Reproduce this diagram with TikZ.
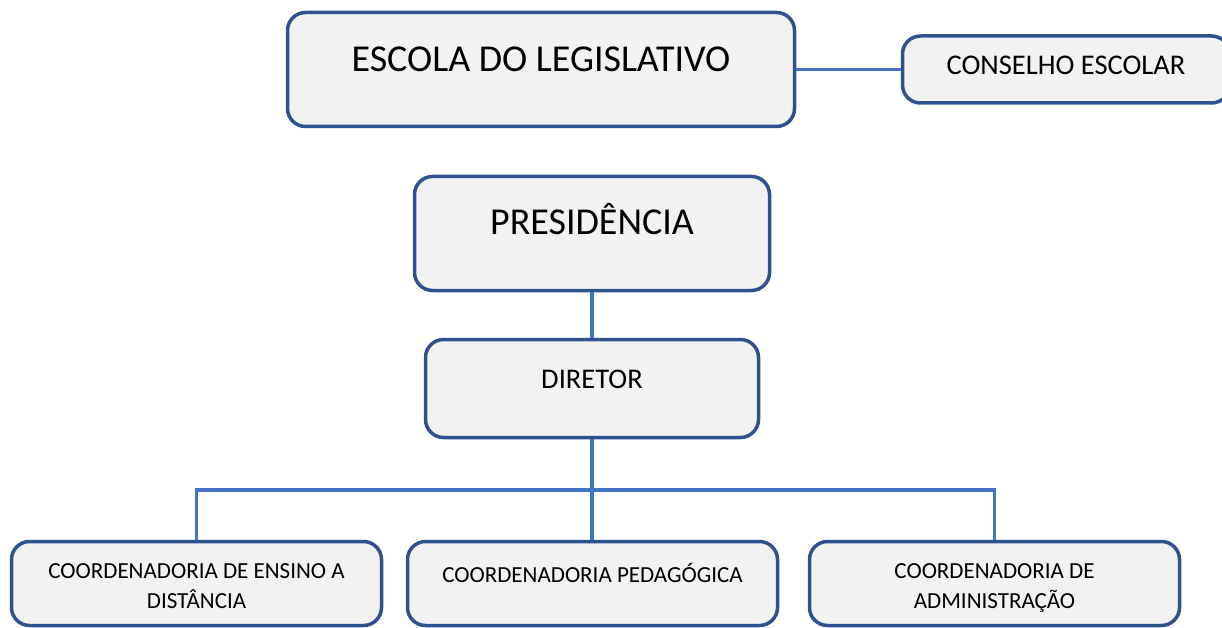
\documentclass[tikz,border=0pt]{standalone}
\usepackage{fontspec}
\setmainfont{Carlito}
\definecolor{boxfill}{HTML}{F2F2F2}
\definecolor{boxline}{HTML}{2F528F}
\definecolor{linkline}{HTML}{4472C4}
\begin{document}
\begin{tikzpicture}[x=1pt,y=-1pt,
    orgbox/.style={draw=boxline,fill=boxfill,line width=3.5pt,rounded corners=18pt,
      inner sep=0pt,align=center},
    big/.style={font=\fontsize{38}{44}\selectfont},
    mid/.style={font=\fontsize{28.5}{34}\selectfont},
    small/.style={font=\fontsize{23}{30}\selectfont},
    link/.style={draw=linkline,line width=3.5pt}]
  \useasboundingbox (0,0) rectangle (1222,628);
  \clip (0,0) rectangle (1222,628);
  \draw
    (541,69.5) node[orgbox,big,minimum width=507pt,minimum height=114pt,
      text height=59.5pt,text depth=54.5pt] (escola){ESCOLA DO LEGISLATIVO}
    (1066,69.5) node[orgbox,mid,minimum width=327pt,minimum height=67pt,
      text height=39pt,text depth=28pt] (conselho){CONSELHO ESCOLAR}
    (592,233.5) node[orgbox,big,minimum width=355pt,minimum height=114pt,
      text height=57.5pt,text depth=56.5pt] (presid){PRESIDÊNCIA}
    (592,388.5) node[orgbox,mid,minimum width=333pt,minimum height=98pt,
      text height=48.5pt,text depth=49.5pt] (diretor){DIRETOR}
    (196.5,583.5) node[orgbox,small,minimum width=370pt,minimum height=84pt,
      text height=66.5pt,text depth=17.5pt] (cead){COORDENADORIA DE ENSINO A\\DISTÂNCIA}
    (592.5,583.5) node[orgbox,small,minimum width=370pt,minimum height=84pt,
      text height=40.5pt,text depth=43.5pt] (cped){COORDENADORIA PEDAGÓGICA}
    (994.5,583.5) node[orgbox,small,minimum width=370pt,minimum height=84pt,
      text height=66.5pt,text depth=17.5pt] (cadm){COORDENADORIA DE\\ADMINISTRAÇÃO};
  \coordinate (bus) at (592,490);
  \begin{scope}[link]
    \draw (escola.east) to (conselho.west);
    \draw (presid) to (diretor);
    \draw (diretor) to (bus);
    \draw (bus) to (cped.north -| bus);
    \draw (cead.north) |- (bus) -| (cadm.north);
  \end{scope}
\end{tikzpicture}
\end{document}
